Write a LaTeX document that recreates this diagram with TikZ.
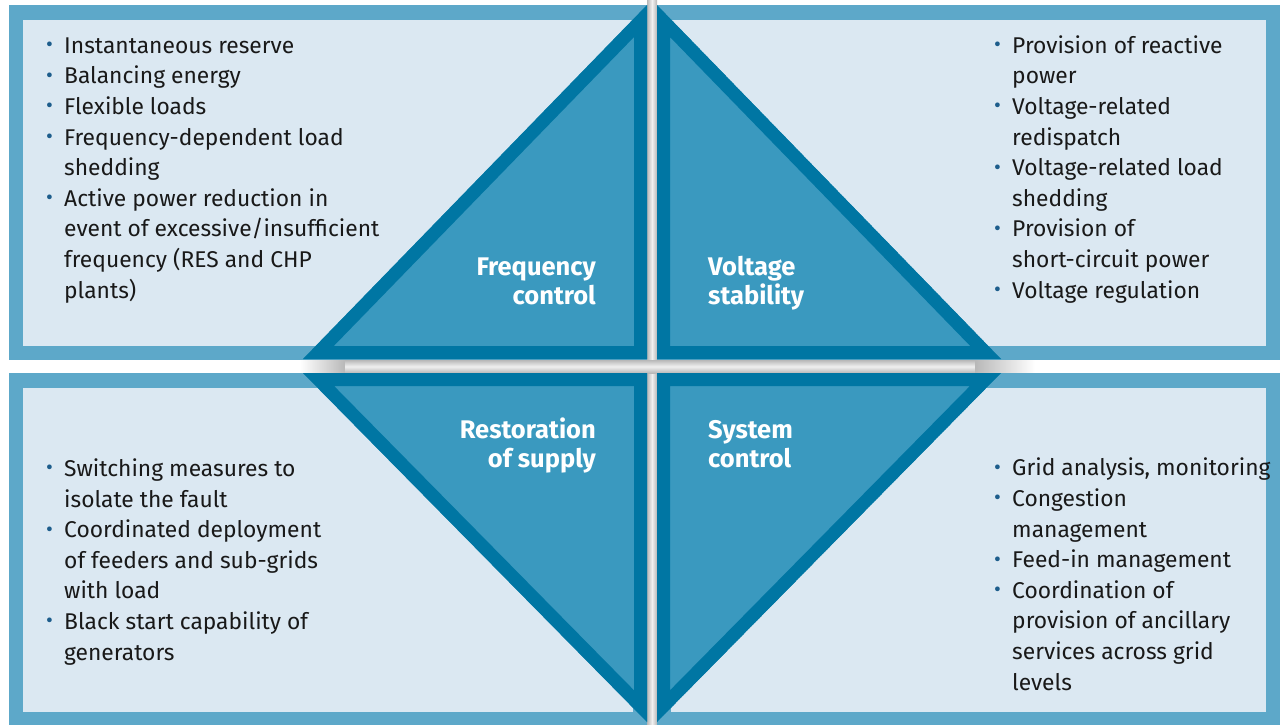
\documentclass[tikz,border=0pt]{standalone}
\usepackage{fontspec}
\setmainfont{Fira Sans}
\usepackage{tikz}

\definecolor{paneledge}{HTML}{5DA8C9}
\definecolor{panelfill}{HTML}{DBE8F2}
\definecolor{tridark}{HTML}{0076A3}
\definecolor{trifill}{HTML}{3A99BF}
\definecolor{dotblue}{HTML}{1D5D8C}
\definecolor{gapgrey}{HTML}{B8B8B8}

\newcommand{\itm}{\makebox[18pt][l]{\raisebox{1.5pt}{\color{dotblue}\fontsize{21}{21}\selectfont\textbullet}}}
\newcommand{\ind}{\hspace*{18pt}}

\begin{document}
\begin{tikzpicture}[x=1pt,y=-1pt]
        \tikzstyle{every node} = [rectangle, inner sep=0pt]
        \tikzstyle{items} = [anchor=base west, align=left, text=black!90, font=\fontsize{22.8}{30.6}\selectfont]
        \tikzstyle{heading} = [text=white, font=\fontsize{25.5}{29.5}\selectfont\bfseries]
        \clip (0,0) rectangle (1280,724);
        % gaps between the panels
        \shade[left color=gapgrey, right color=gapgrey, middle color=gray!12] (647,0) rectangle (657,724);
        \shade[left color=white, right color=gapgrey] (300,360) rectangle (345,373);
        \shade[top color=gapgrey, bottom color=gapgrey, middle color=gray!12] (345,360) rectangle (975,373);
        \shade[left color=gapgrey, right color=white] (975,360) rectangle (1035,373);
        % panels
        \foreach \xa/\ya/\xb/\yb in {9/5/647/360, 657/5/1280/360, 9/373/647/726, 657/373/1280/726} {
            \fill[paneledge] (\xa,\ya) rectangle (\xb,\yb);
            \fill[panelfill] (\xa+14,\ya+15) rectangle (\xb-14,\yb-14);
        }
        % triangles
        \foreach \ax/\ay/\bx/\by/\cx/\cy in {647/5/303/359/647/359, 657/5/1001/359/657/359, 647/373/303/373/647/722, 657/373/1001/373/657/722} {
            \begin{scope}
                \clip (\ax,\ay) -- (\bx,\by) -- (\cx,\cy) -- cycle;
                \draw[tridark, fill=trifill, line width=26pt] (\ax,\ay) -- (\bx,\by) -- (\cx,\cy) -- cycle;
            \end{scope}
        }
        % headings (base = last line)
        \node[heading, anchor=base east, align=right] (freq) at (596,304.5) {Frequency\\control};
        \node[heading, anchor=base west, align=left] (volt) at (708,304.5) {Voltage\\stability};
        \node[heading, anchor=base east, align=right] (rest) at (596,467.5) {Restoration\\of supply};
        \node[heading, anchor=base west, align=left] (sys) at (708,467.5) {System\\control};
        % lists (base = last line)
        \node[items] (freqlist) at (46,298) {\itm Instantaneous reserve\\
            \itm Balancing energy\\
            \itm Flexible loads\\
            \itm Frequency-dependent load\\
            \ind shedding\\
            \itm Active power reduction in\\
            \ind event of excessive/insufficient\\
            \ind frequency (RES and CHP\\
            \ind plants)};
        \node[items] (voltlist) at (994,298) {\itm Provision of reactive\\
            \ind power\\
            \itm Voltage-related\\
            \ind redispatch\\
            \itm Voltage-related load\\
            \ind shedding\\
            \itm Provision of\\
            \ind short-circuit power\\
            \itm Voltage regulation};
        \node[items] (restlist) at (46,660) {\itm Switching measures to\\
            \ind isolate the fault\\
            \itm Coordinated deployment\\
            \ind of feeders and sub-grids\\
            \ind with load\\
            \itm Black start capability of\\
            \ind generators};
        \node[items] (syslist) at (994,690) {\itm Grid analysis, monitoring\\
            \itm Congestion\\
            \ind management\\
            \itm Feed-in management\\
            \itm Coordination of\\
            \ind provision of ancillary\\
            \ind services across grid\\
            \ind levels};
\end{tikzpicture}
\end{document}
